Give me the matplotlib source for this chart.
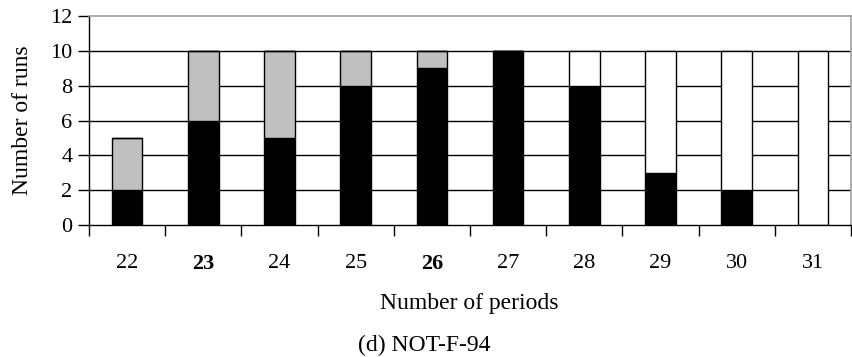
import matplotlib
matplotlib.use("Agg")
import matplotlib.pyplot as plt
import numpy as np

periods = ["22", "23", "24", "25", "26", "27", "28", "29", "30", "31"]
bold_periods = ["23", "26"]
black_runs = [2, 6, 5, 8, 9, 10, 8, 3, 2, 0]
gray_runs = [3, 4, 5, 2, 1, 0, 0, 0, 0, 0]
white_runs = [0, 0, 0, 0, 0, 0, 2, 7, 8, 10]

plt.rcParams["font.family"] = ["Liberation Serif", "DejaVu Serif"]
plt.rcParams["font.size"] = 16

fig = plt.figure(figsize=(8.52, 3.57), dpi=100)
ax = fig.add_axes([89 / 852, 1 - 225 / 357, (851 - 89) / 852, (225 - 16) / 357])

x = np.arange(len(periods))
w = 0.4
black = np.array(black_runs)
gray = np.array(gray_runs)
white = np.array(white_runs)

for yv in range(2, 11, 2):
    ax.axhline(yv, color="black", lw=1.0, zorder=1)

ax.bar(x, black, w, color="black", edgecolor="black", lw=1.0, zorder=2)
ax.bar(x, gray, w, bottom=black, color="#c0c0c0", edgecolor="black", lw=1.0, zorder=2)
ax.bar(x, white, w, bottom=black + gray, color="white", edgecolor="black", lw=1.0, zorder=2)

ax.set_xlim(-0.5, len(periods) - 0.5)
ax.set_ylim(0, 12)
ax.set_yticks(range(0, 13, 2))
ax.set_xticks(x)
ax.set_xticklabels(periods)
for lbl in ax.get_xticklabels():
    if lbl.get_text() in bold_periods:
        lbl.set_fontweight("bold")
ax.set_xticks(np.arange(-0.5, len(periods), 1.0), minor=True)
ax.tick_params(axis="x", which="major", length=0, pad=21)
ax.tick_params(axis="x", which="minor", length=8, direction="out", width=1.0, color="black")
ax.tick_params(axis="y", length=8, direction="out", width=1.0, pad=4)

for side in ("top", "right"):
    ax.spines[side].set_color("#a0a0a0")
    ax.spines[side].set_linewidth(1.2)
for side in ("left", "bottom"):
    ax.spines[side].set_color("black")
    ax.spines[side].set_linewidth(1.0)

ax.set_ylabel("Number of runs", labelpad=12, fontsize=17)
fig.text(469 / 852, 1 - 303 / 357, "Number of periods", ha="center", va="center", fontsize=17)
fig.text(424 / 852, 1 - 345 / 357, "(d) NOT-F-94", ha="center", va="center", fontsize=17)

fig.savefig("out.png", dpi=100)
